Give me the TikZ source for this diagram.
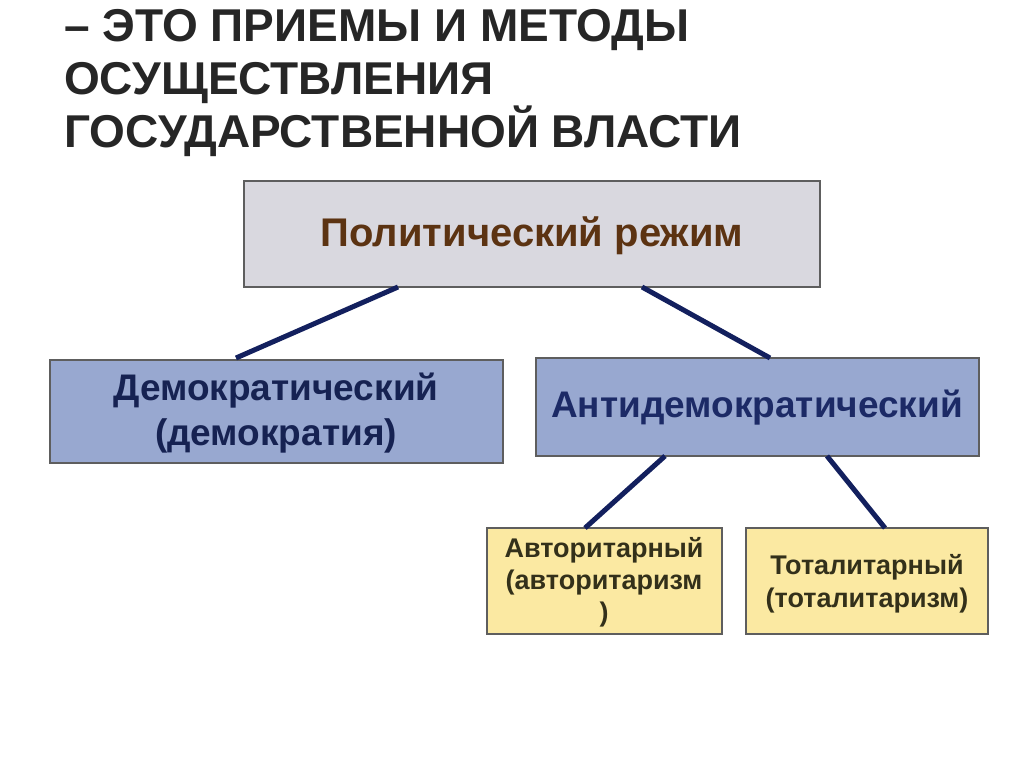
\documentclass[tikz,border=0pt]{standalone}
\usepackage{fontspec}
\setmainfont{Liberation Sans}
\begin{document}
\begin{tikzpicture}[x=1pt,y=-1pt,
  box/.style={draw=boxline,line width=2.5pt,inner sep=0pt},
  conn/.style={draw=navy,line width=5pt},
  lbl/.style={font=\bfseries,align=center}]
\definecolor{boxline}{HTML}{5E5E5E}
\definecolor{navy}{HTML}{13205E}
\definecolor{topfill}{HTML}{D9D8DF}
\definecolor{bluefill}{HTML}{98A8D0}
\definecolor{yelfill}{HTML}{FBE9A2}
\definecolor{brown}{HTML}{5C3312}
\definecolor{navytext}{HTML}{1C2A66}
\definecolor{olive}{HTML}{33301A}
\useasboundingbox (0,0) rectangle (1024,767);
\fill[white] (0,0) rectangle (1024,767);
\node[anchor=north west,align=left,font=\fontsize{46}{53}\selectfont\bfseries,text=black!85,inner sep=0pt] (title) at (64,9)
 {-- ЭТО ПРИЕМЫ И МЕТОДЫ\\ОСУЩЕСТВЛЕНИЯ\\ГОСУДАРСТВЕННОЙ ВЛАСТИ};
\draw[box,fill=topfill] (244,181) rectangle (820,287);
\node[lbl,text=brown,font=\fontsize{40}{48}\selectfont\bfseries] (top) at (532,236) {Политический режим};
\draw[box,fill=bluefill] (50,360) rectangle (503,463);
\node[lbl,text=navytext!80!black,font=\fontsize{37}{45}\selectfont\bfseries] (demo) at (276,413) {Демократический\\(демократия)};
\draw[box,fill=bluefill] (536,358) rectangle (979,456);
\node[lbl,text=navytext,font=\fontsize{37}{44}\selectfont\bfseries] (anti) at (757,408) {Антидемократический};
\draw[box,fill=yelfill] (487,528) rectangle (722,634);
\node[lbl,text=olive,font=\fontsize{27}{32}\selectfont\bfseries] (auth) at (604,582) {Авторитарный\\(авторитаризм\\)};
\draw[box,fill=yelfill] (746,528) rectangle (988,634);
\node[lbl,text=olive,font=\fontsize{27}{33}\selectfont\bfseries] (tot) at (867,584) {Тоталитарный\\(тоталитаризм)};
\coordinate (t1) at (398,287); \coordinate (d1) at (236,358);
\coordinate (t2) at (642,287); \coordinate (a1) at (770,358);
\coordinate (a2) at (665,456); \coordinate (u1) at (585,528);
\coordinate (a3) at (827,456); \coordinate (o1) at (885,528);
\draw[conn] (t1) -- (d1);
\draw[conn] (t2) -- (a1);
\draw[conn] (a2) -- (u1);
\draw[conn] (a3) -- (o1);
\end{tikzpicture}
\end{document}
